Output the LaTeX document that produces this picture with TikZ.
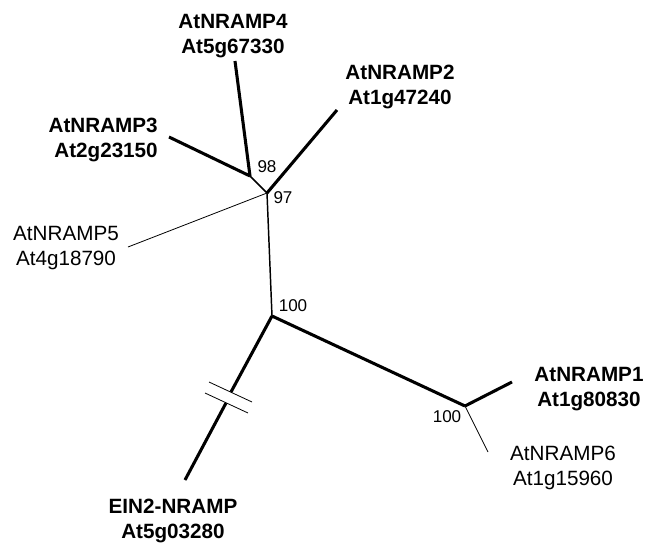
\documentclass[tikz,border=0pt]{standalone}
\usepackage{fontspec}
\setmainfont{Liberation Sans}
\usetikzlibrary{calc}
\begin{document}
\begin{tikzpicture}[x=0.75pt,y=-0.75pt]
\tikzstyle{leaf} = [inner sep=0pt, align=center, font=\fontsize{15.5}{18.5}\selectfont]
\tikzstyle{bleaf} = [leaf, font=\fontsize{15.5}{18.5}\selectfont\bfseries]
\tikzstyle{boot} = [inner sep=0pt, font=\fontsize{12.8}{14}\selectfont]
\tikzstyle{strong} = [line width=2.3pt]
\tikzstyle{mid} = [line width=1.1pt]
\tikzstyle{weak} = [line width=0.6pt]
%
\useasboundingbox (0,0) rectangle (647,543);
%
\coordinate (a) at (250,176);
\coordinate (b) at (267,193);
\coordinate (c) at (272,316);
\coordinate (d) at (465,406);
%
\coordinate (l4) at (235,61);
\coordinate (l3) at (169,137);
\coordinate (l2) at (337,110);
\coordinate (l5) at (128,247);
\coordinate (l1) at (512,382);
\coordinate (l6) at (488,452);
\coordinate (le) at (185,480);
\coordinate (k1) at (231,392);
\coordinate (k2) at (226,403);
%
\node (t4) [bleaf] at (233,36)  {AtNRAMP4\\At5g67330};
\node (t3) [bleaf, align=right, anchor=east] at (158,140) {AtNRAMP3\\At2g23150};
\node (t2) [bleaf] at (400,87)  {AtNRAMP2\\At1g47240};
\node (t5) [leaf]  at (66,248)  {AtNRAMP5\\At4g18790};
\node (t1) [bleaf] at (589,389) {AtNRAMP1\\At1g80830};
\node (t6) [leaf]  at (563,468) {AtNRAMP6\\At1g15960};
\node (te) [bleaf] at (173,521) {EIN2-NRAMP\\At5g03280};
%
\node (s98)  [boot] at (267,167) {98};
\node (s97)  [boot] at (283,198) {97};
\node (s100) [boot] at (293,306) {100};
\node (s100b)[boot] at (447,417) {100};
%
\draw [strong] (a) -- (l4);
\draw [strong] (a) -- (l3);
\draw [mid]    (a) -- (b);
\draw [strong] (b) -- (l2);
\draw [weak]   (b) -- (l5);
\draw [mid]    (b) -- (c);
\draw [strong] (c) -- (d);
\draw [strong] (d) -- (l1);
\draw [weak]   (d) -- (l6);
\draw [strong] (c) -- (k1);
\draw [strong] (k2) -- (le);
%
\draw [weak] ($(k1)+(-22,-10)$) -- ($(k1)+(21,10)$);
\draw [weak] ($(k2)+(-21,-10)$) -- ($(k2)+(22,10)$);
\end{tikzpicture}
\end{document}
